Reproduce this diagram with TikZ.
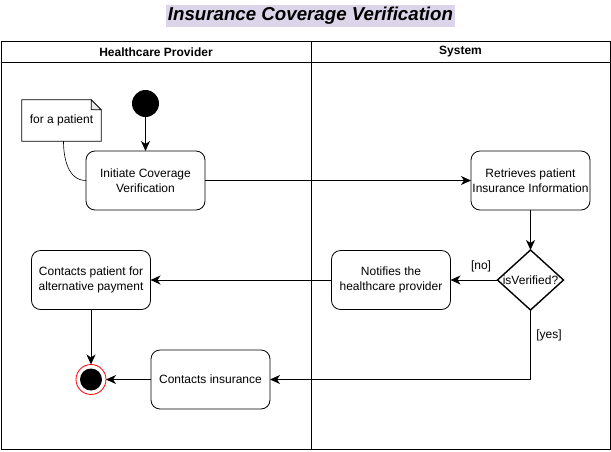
\documentclass[tikz,border=0pt]{standalone}
\usepackage{fontspec}
\setmainfont{Liberation Sans}
\usetikzlibrary{shapes.geometric,positioning,arrows.meta}
\definecolor{titlebg}{RGB}{220,213,233}
\definecolor{foldgray}{RGB}{235,235,235}
\tikzset{activity/.style={draw,rounded corners=9pt,minimum width=119pt,minimum height=59pt,inner xsep=1pt,align=center,outer sep=0pt,line width=0.8pt,font=\fontsize{12pt}{15pt}\selectfont}}
\tikzset{decision/.style={draw,diamond,minimum width=66pt,minimum height=60pt,inner sep=0pt,outer sep=0pt,line width=1.4pt}}
\tikzset{initial/.style={circle,fill=black,minimum size=27pt,inner sep=0pt,outer sep=0pt}}
\tikzset{final/.style={circle,draw=red,fill=white,minimum size=30pt,inner sep=0pt,outer sep=0pt,line width=0.8pt,path picture={\fill[black] (path picture bounding box.center) circle (11pt);}}}
\tikzset{lane/.style={font=\bfseries\fontsize{12pt}{14pt}\selectfont}}
\tikzset{guard/.style={font=\fontsize{12pt}{14pt}\selectfont}}
\tikzset{flow/.style={-{Stealth[length=10pt,width=9pt,inset=3pt]},line width=1pt}}

\begin{document}
\begin{tikzpicture}[x=1pt,y=-1pt]
\useasboundingbox (0,0) rectangle (611,451);

% title
\node[fill=titlebg,inner sep=2pt,font=\bfseries\itshape\fontsize{18.7pt}{20pt}\selectfont] (title) at (310.5,16) {Insurance Coverage Verification};

% swimlanes
\draw[line width=0.8pt] (1,41) rectangle (610,449);
\draw[line width=0.8pt] (1,62) -- (610,62);
\draw[line width=0.8pt] (311,41) -- (311,449);
\node[lane] (provider) at (156,52) {Healthcare Provider};
\node[lane] (system) at (460.5,52) {System};

% activities
\node[activity] (initiate) at (145.5,180.5) {Initiate Coverage\\Verification};
\node[initial] (start) [above=34pt of initiate] {};
\node[activity] (retrieves) [right=266pt of initiate] {Retrieves patient\\Insurance Information};
\node[decision] (verified) [below=40pt of retrieves] {};
\node[guard] (verifiedtext) at (verified) {isVerified?};
\node[activity] (notifies) [left=47pt of verified] {Notifies the\\healthcare provider};
\node[activity] (contactspatient) [left=181pt of notifies] {Contacts patient for\\alternative payment};
\node[final] (final) [below=55pt of contactspatient] {};
\node[activity] (insurance) [right=45pt of final] {Contacts insurance};

% note
\node[minimum width=79pt,minimum height=41pt,font=\fontsize{12pt}{14pt}\selectfont] (note) at (61.5,120.5) {for a patient};
\draw[line width=0.8pt] (note.north west) -- ([xshift=-10pt]note.north east) -- ([yshift=-10pt]note.north east) -- (note.south east) -- (note.south west) -- cycle;
\draw[line width=0.8pt,fill=foldgray] ([xshift=-10pt]note.north east) -- ([xshift=-10pt,yshift=-10pt]note.north east) -- ([yshift=-10pt]note.north east) -- cycle;
\draw[line width=0.6pt] ([xshift=2pt]note.south) to[out=-90,in=180] (initiate.west);

% flows
\path[flow] (start) edge (initiate);
\path[flow] (initiate) edge (retrieves);
\path[flow] (retrieves) edge (verified);
\path[flow] (verified) edge node[guard,pos=0.35,above=4pt] (no) {[no]} (notifies);
\path[flow] (notifies) edge (contactspatient);
\path[flow] (contactspatient) edge (final);
\path[flow] (insurance) edge (final);
\draw[flow] (verified.south) |- node[guard,pos=0.18,right=2pt] (yes) {[yes]} (insurance.east);

\end{tikzpicture}
\end{document}
